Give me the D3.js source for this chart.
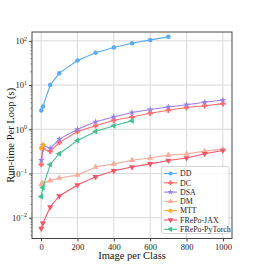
<!DOCTYPE html>
<html><head><meta charset="utf-8">
<script src="https://cdn.jsdelivr.net/npm/d3@7"></script>
<style>body{margin:0;background:#fff}svg{display:block}</style>
</head><body><svg id="c" width="258" height="268"></svg>
<script>
const xTicks = [0, 200, 400, 600, 800, 1000];
const yTicks = [0.01, 0.1, 1, 10, 100];
const seriesNames = ["DD", "DC", "DSA", "DM", "MTT", "FRePo-JAX", "FRePo-PyTorch"];
const seriesColors = ["#5aaaf5", "#ff6b6e", "#9a7ee8", "#f5ac98", "#ffa930", "#f45566", "#45bf8e"];
const seriesMarkers = ["circle", "plus", "star", "triUp", "circle", "triDown", "triLeft"];
const ddX = [1, 10, 50, 100, 200, 300, 400, 500, 600, 700];
const ddY = [2.65, 3.27, 10, 18.6, 36, 54, 71, 88, 105, 123];
const fullX = [1, 10, 50, 100, 200, 300, 400, 500, 600, 700, 800, 900, 1000];
const dcY = [0.16, 0.36, 0.32, 0.5, 0.89, 1.2, 1.6, 1.9, 2.3, 2.7, 3.1, 3.4, 3.8];
const dsaY = [0.2, 0.44, 0.37, 0.6, 1.0, 1.48, 1.9, 2.4, 2.8, 3.2, 3.6, 4.1, 4.6];
const dmY = [0.057, 0.061, 0.069, 0.079, 0.092, 0.14, 0.165, 0.2, 0.225, 0.26, 0.275, 0.32, 0.355];
const mttX = [1, 10];
const mttY = [0.37, 0.44];
const jaxY = [0.0057, 0.0075, 0.0175, 0.031, 0.055, 0.084, 0.115, 0.14, 0.165, 0.196, 0.225, 0.28, 0.33];
const ptX = [1, 10, 50, 100, 200, 300, 400, 500];
const ptY = [0.03, 0.048, 0.16, 0.28, 0.56, 0.89, 1.2, 1.55];
const seriesX = [ddX, fullX, fullX, fullX, mttX, fullX, ptX];
const seriesY = [ddY, dcY, dsaY, dmY, mttY, jaxY, ptY];

const svg = d3.select("#c");
const L = 32, R = 232, T = 32, B = 238.5;
const x = d3.scaleLinear().domain([-50, 1050]).range([L, R]);
const y = d3.scaleLog().domain([Math.pow(10, -2.47), Math.pow(10, 2.2)]).range([B, T]);
const font = "'Liberation Serif', 'DejaVu Serif', serif";

// grid
svg.append("g").selectAll("line").data(xTicks).join("line")
  .attr("x1", d => x(d)).attr("x2", d => x(d)).attr("y1", T).attr("y2", B)
  .attr("stroke", "#d9d9d9").attr("stroke-width", 1);
svg.append("g").selectAll("line").data(yTicks).join("line")
  .attr("y1", d => y(d)).attr("y2", d => y(d)).attr("x1", L).attr("x2", R)
  .attr("stroke", "#d9d9d9").attr("stroke-width", 1);

// axes
const xAxis = svg.append("g").attr("transform", `translate(0,${B})`)
  .call(d3.axisBottom(x).tickValues(xTicks).tickSize(3).tickPadding(2).tickFormat(d3.format("d")));
xAxis.select(".domain").remove();
xAxis.selectAll("line").attr("stroke", "#444");
xAxis.selectAll("text").attr("font-family", font).attr("font-size", 8.5).attr("fill", "#222");

const yAxis = svg.append("g").attr("transform", `translate(${L},0)`)
  .call(d3.axisLeft(y).tickValues(yTicks).tickSize(3).tickPadding(2).tickFormat(() => ""));
yAxis.select(".domain").remove();
yAxis.selectAll("line").attr("stroke", "#444");
yAxis.selectAll(".tick").each(function(d) {
  const t = d3.select(this).select("text").attr("font-family", font).attr("font-size", 8.5).attr("fill", "#222");
  t.text("");
  t.append("tspan").text("10");
  t.append("tspan").attr("dy", -3.5).attr("font-size", 6).text(String(Math.round(Math.log10(d))).replace("-", "\u2212"));
});
// minor ticks
const minor = [];
for (let e = -3; e <= 2; e++) for (let m = 2; m <= 9; m++) { const v = m * Math.pow(10, e); if (v >= y.domain()[0] && v <= y.domain()[1]) minor.push(v); }
svg.append("g").selectAll("line").data(minor).join("line")
  .attr("x1", L - 1.5).attr("x2", L).attr("y1", d => y(d)).attr("y2", d => y(d)).attr("stroke", "#444").attr("stroke-width", 0.6);

// frame
svg.append("rect").attr("x", L).attr("y", T).attr("width", R - L).attr("height", B - T)
  .attr("fill", "none").attr("stroke", "#444").attr("stroke-width", 1);

function marker(sel, type, color, s) {
  if (type === "circle") sel.append("circle").attr("r", s * 0.9).attr("fill", color);
  else if (type === "plus") {
    const a = s * 0.4, b = s * 1.1;
    sel.append("path").attr("d", `M${-a},${-b}H${a}V${-a}H${b}V${a}H${a}V${b}H${-a}V${a}H${-b}V${-a}H${-a}Z`).attr("fill", color);
  } else if (type === "star") sel.append("path").attr("d", d3.symbol(d3.symbolStar, s * s * 2.2)()).attr("fill", color);
  else {
    const tri = d3.symbol(d3.symbolTriangle, s * s * 2.6)();
    const rot = type === "triUp" ? 0 : type === "triDown" ? 180 : -90;
    sel.append("path").attr("d", tri).attr("transform", `rotate(${rot})`).attr("fill", color);
  }
}

// series
const line = d3.line().x(d => x(d[0])).y(d => y(d[1]));
seriesNames.forEach((name, i) => {
  const pts = seriesX[i].map((v, j) => [v, seriesY[i][j]]);
  const g = svg.append("g");
  g.append("path").attr("d", line(pts)).attr("fill", "none").attr("stroke", seriesColors[i]).attr("stroke-width", 1.1);
  pts.forEach(p => {
    const m = g.append("g").attr("transform", `translate(${x(p[0])},${y(p[1])})`);
    marker(m, seriesMarkers[i], seriesColors[i], 2.5);
  });
});

// legend
const lg = svg.append("g");
lg.append("rect").attr("x", 161.5).attr("y", 166.5).attr("width", 67.5).attr("height", 67)
  .attr("fill", "#fff").attr("fill-opacity", 0.85).attr("stroke", "#ccc").attr("stroke-width", 0.8).attr("rx", 1.5);
seriesNames.forEach((name, i) => {
  const yy = 173.5 + i * 9.3;
  lg.append("line").attr("x1", 164).attr("x2", 177).attr("y1", yy).attr("y2", yy).attr("stroke", seriesColors[i]).attr("stroke-width", 1.1);
  const m = lg.append("g").attr("transform", `translate(170.5,${yy})`);
  marker(m, seriesMarkers[i], seriesColors[i], 2.3);
  lg.append("text").attr("x", 180).attr("y", yy + 2.7).attr("font-family", font).attr("font-size", 7.9).attr("fill", "#222").text(name);
});

// axis labels
svg.append("text").attr("x", (L + R) / 2).attr("y", 259).attr("text-anchor", "middle")
  .attr("font-family", font).attr("font-size", 10.5).attr("fill", "#111").text("Image per Class");
svg.append("text").attr("transform", `translate(14,${(T + B) / 2}) rotate(-90)`).attr("text-anchor", "middle")
  .attr("font-family", font).attr("font-size", 10.5).attr("fill", "#111").text("Run-time Per Loop (s)");
</script></body></html>
